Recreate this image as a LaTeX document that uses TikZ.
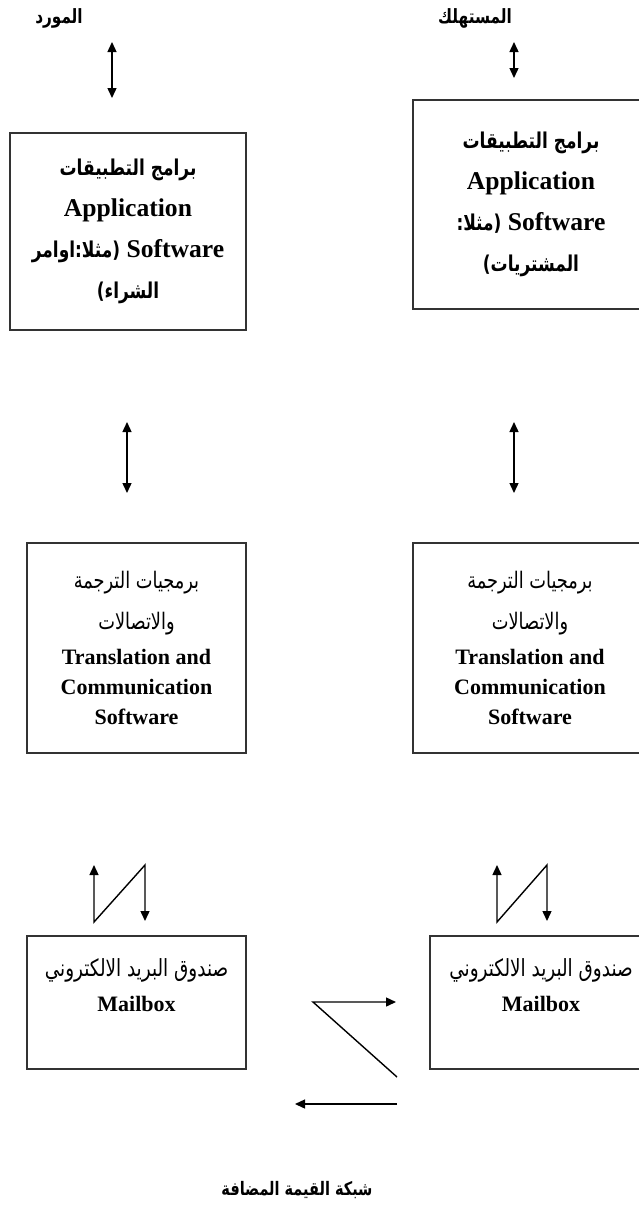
\documentclass[tikz,border=0pt]{standalone}
\usepackage{fontspec}
\setmainfont{Liberation Serif}
\newfontfamily\arabicfont[Script=Arabic,FakeStretch=0.78]{DejaVu Sans}
\TeXXeTstate=1
\usetikzlibrary{arrows.meta,positioning}
% Arabic font at a given size: #1 size, #2 baselineskip
\newcommand{\arf}[2]{\fontsize{#1}{#2}\arabicfont\mdseries}
\newcommand{\arfb}[2]{\fontsize{#1}{#2}\arabicfont\bfseries}
\tikzset{
	box/.style={draw=black!80, line width=1pt, inner sep=0pt, align=center},
	dbl/.style={{Triangle[length=5pt,width=4.5pt]}-{Triangle[length=5pt,width=4.5pt]}, line width=0.7pt},
	sgl/.style={-{Triangle[length=5pt,width=4.5pt]}, line width=0.7pt},
	lbl/.style={inner sep=0pt}
}

\begin{document}
\begin{tikzpicture}[x=0.5pt, y=-0.5pt]
			%%%%% START %%%%%
			\useasboundingbox (0,0) rectangle (638,1211);
			
			\node[lbl] (supp) at (59,18) {\arfb{9.8}{12}\beginR المورد\endR};
			\node[lbl] (cons) at (475,18) {\arfb{9.8}{12}\beginR المستهلك\endR};
			
			% application software
			\node[box, minimum width=118pt, minimum height=98.5pt, font=\fontsize{12.8}{20.5}\selectfont\bfseries] (appL) at (128,231.5)
				{{\arfb{10.9}{20.5}\beginR برامج التطبيقات\endR}\\ Application\\
				 \beginR\beginL Software\endL\ {\arfb{10.9}{20.5}(مثلا:اوامر}\endR\\ {\arfb{10.9}{20.5}\beginR الشراء)\endR}};
			\node[box, minimum width=118pt, minimum height=104.5pt, font=\fontsize{12.8}{20.5}\selectfont\bfseries] (appR) at (531,204.5)
				{{\arfb{10.9}{20.5}\beginR برامج التطبيقات\endR}\\ Application\\
				 \beginR\beginL Software\endL\ {\arfb{10.9}{20.5}(مثلا:}\endR\\ {\arfb{10.9}{20.5}\beginR المشتريات)\endR}};
			
			% translation and communication
			\node[box, minimum width=109.5pt, minimum height=105pt, font=\fontsize{11}{15}\selectfont\bfseries] (trnL) at (136.5,648)
				{{\arf{11.4}{15}\beginR برمجيات الترجمة\endR}\\[5.5pt] {\arf{11.4}{15}\beginR والاتصالات\endR}\\[2.5pt]
				 Translation and\\ Communication\\ Software};
			\node[box, minimum width=117pt, minimum height=105pt, font=\fontsize{11}{15}\selectfont\bfseries] (trnR) at (530,648)
				{{\arf{11.4}{15}\beginR برمجيات الترجمة\endR}\\[5.5pt] {\arf{11.4}{15}\beginR والاتصالات\endR}\\[2.5pt]
				 Translation and\\ Communication\\ Software};
			
			% mailboxes
			\node[box, minimum width=109.5pt, minimum height=66.5pt] (mbxL) at (136.5,1002.5) {};
			\node[box, minimum width=111pt, minimum height=66.5pt] (mbxR) at (541,1002.5) {};
			\node[align=center, inner sep=0pt, font=\fontsize{11}{17.5}\selectfont\bfseries] (mbtL) at ([yshift=8.5pt]mbxL.center)
				{{\arf{11.8}{17.5}\beginR صندوق البريد الالكتروني\endR}\\ Mailbox};
			\node[align=center, inner sep=0pt, font=\fontsize{11}{17.5}\selectfont\bfseries] (mbtR) at ([yshift=8.5pt]mbxR.center)
				{{\arf{11.8}{17.5}\beginR صندوق البريد الالكتروني\endR}\\ Mailbox};
			
			\node[lbl] (vans) at (297,1190) {\arfb{9.3}{12}\beginR شبكة القيمة المضافة\endR};
			
			% arrow ends
			\coordinate (a1) at (112,42);  \coordinate (a2) at (112,98);
			\coordinate (b1) at (514,42);  \coordinate (b2) at (514,78);
			\coordinate (c1) at (127,422); \coordinate (c2) at (127,493);
			\coordinate (d1) at (514,422); \coordinate (d2) at (514,493);
			\coordinate (zL1) at (94,865);  \coordinate (zL2) at (94,922);
			\coordinate (zL3) at (145,865); \coordinate (zL4) at (145,921);
			\coordinate (zR1) at (497,865); \coordinate (zR2) at (497,922);
			\coordinate (zR3) at (547,865); \coordinate (zR4) at (547,921);
			\coordinate (m1) at (397,1077); \coordinate (m2) at (313,1002); \coordinate (m3) at (396,1002);
			\coordinate (n1) at (397,1104); \coordinate (n2) at (295,1104);
			
			\draw[dbl] (a1) -- (a2);
			\draw[dbl] (b1) -- (b2);
			\draw[dbl] (c1) -- (c2);
			\draw[dbl] (d1) -- (d2);
			\draw[dbl] (zL1) -- (zL2) -- (zL3) -- (zL4);
			\draw[dbl] (zR1) -- (zR2) -- (zR3) -- (zR4);
			\draw[sgl] (m1) -- (m2) -- (m3);
			\draw[sgl] (n1) -- (n2);
			
			%%%%% END %%%%%
\end{tikzpicture}
\end{document}
